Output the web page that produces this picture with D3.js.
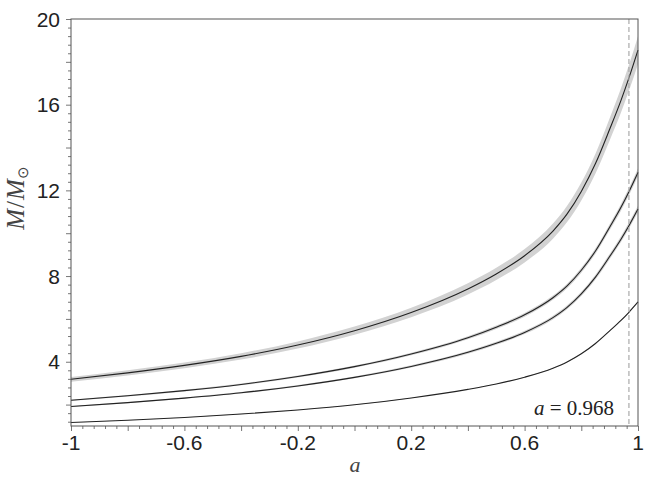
<!DOCTYPE html>
<html><head><meta charset="utf-8">
<script src="https://cdn.jsdelivr.net/npm/d3@7/dist/d3.min.js"></script>
<style>body{margin:0;background:#fff}svg{display:block}</style>
</head><body><svg id="c" width="648" height="483"></svg>
<script>
// data
const spin  = [-1,-0.8,-0.6,-0.4,-0.2,0,0.2,0.4,0.5,0.6,0.7,0.75,0.8,0.85,0.9,0.94,0.968,1];
const massA = [3.18,3.48,3.83,4.25,4.78,5.45,6.3,7.4,8.1,8.95,10.1,10.9,11.95,13.25,14.85,16.2,17.25,18.55];
const massB = [2.2,2.41,2.65,2.94,3.31,3.77,4.36,5.12,5.61,6.19,6.99,7.54,8.27,9.17,10.28,11.21,11.94,12.84];
const massC = [1.91,2.09,2.3,2.55,2.87,3.27,3.78,4.44,4.86,5.37,6.06,6.54,7.17,7.95,8.91,9.72,10.35,11.13];
const massD = [1.16,1.27,1.4,1.56,1.75,1.99,2.31,2.71,2.96,3.28,3.7,3.99,4.37,4.85,5.44,5.93,6.31,6.79];
const bandFrac = [0.035,0.014,0.014,0.004];
const xTickLabels = [-1,-0.6,-0.2,0.2,0.6,1];
const yTickLabels = [4,8,12,16,20];
const markSpin = 0.968;

const svg = d3.select("#c");
const L=71,R=638,T=19,B=426;
const x = d3.scaleLinear().domain([-1,1]).range([L,R]);
const y = d3.scaleLinear().domain([1,20]).range([B,T]);
const series=[massA,massB,massC,massD];

const g = svg.append("g");
series.forEach((s,i)=>{
  const f=bandFrac[i];
  const area=d3.area().curve(d3.curveMonotoneX)
    .x((d,j)=>x(spin[j])).y0(d=>y(d*(1-f))).y1(d=>y(d*(1+f)));
  g.append("path").attr("d",area(s)).attr("fill","#d2d2d2");
});
series.forEach(s=>{
  const line=d3.line().curve(d3.curveMonotoneX).x((d,j)=>x(spin[j])).y(d=>y(d));
  g.append("path").attr("d",line(s)).attr("fill","none").attr("stroke","#222").attr("stroke-width",1.1);
});
svg.append("line").attr("x1",x(markSpin)).attr("x2",x(markSpin)).attr("y1",T).attr("y2",B)
  .attr("stroke","#aaa").attr("stroke-width",1.2).attr("stroke-dasharray","5,3");

// axes
const xAxis = d3.axisBottom(x).tickValues(d3.range(-1,1.0001,0.04)).tickSize(3).tickFormat("");
const gx=svg.append("g").attr("transform",`translate(0,${B})`).call(xAxis);
gx.selectAll(".tick line").attr("y2",d=>{const k=Math.round(d*10);return Math.abs(k/10-d)<1e-6&&k%2===0?5:3;});
const yAxis = d3.axisLeft(y).tickValues(d3.range(1.2,20.0001,0.4)).tickSize(3).tickFormat("");
const gy=svg.append("g").attr("transform",`translate(${L},0)`).call(yAxis);
gy.selectAll(".tick line").attr("x2",d=>Math.abs(d/2-Math.round(d/2))<1e-6?-5:-3);
[gx,gy].forEach(a=>{a.select(".domain").remove();a.selectAll("line").attr("stroke","#777");});
svg.append("rect").attr("x",L).attr("y",T).attr("width",R-L).attr("height",B-T)
  .attr("fill","none").attr("stroke","#555").attr("stroke-width",1);

// tick labels
svg.append("g").selectAll("text").data(xTickLabels).join("text")
  .attr("x",d=>x(d)).attr("y",450).attr("text-anchor","middle")
  .attr("font-family","Liberation Sans, Arial, sans-serif").attr("font-size",21).attr("fill","#222")
  .text(d=>d);
svg.append("g").selectAll("text").data(yTickLabels).join("text")
  .attr("x",60).attr("y",d=>y(d)+7.5).attr("text-anchor","end")
  .attr("font-family","Liberation Sans, Arial, sans-serif").attr("font-size",21).attr("fill","#222")
  .text(d=>d);

// axis titles
svg.append("text").attr("x",355).attr("y",472).attr("text-anchor","middle")
  .attr("font-family","Liberation Serif, serif").attr("font-style","italic").attr("font-size",22).attr("fill","#444").text("a");
const yt=svg.append("text").attr("transform","translate(24,198) rotate(-90)").attr("text-anchor","middle")
  .attr("font-family","Liberation Serif, serif").attr("font-size",25).attr("fill","#444");
yt.append("tspan").attr("font-style","italic").text("M");
yt.append("tspan").attr("dx",1).text("/");
yt.append("tspan").attr("dx",1).attr("font-style","italic").text("M");
yt.append("tspan").attr("font-size",15).attr("dy",4).text("⊙");

// annotation
const an=svg.append("text").attr("x",614).attr("y",415).attr("text-anchor","end")
  .attr("font-family","Liberation Serif, serif").attr("font-size",21).attr("fill","#222");
an.append("tspan").attr("font-style","italic").text("a");
an.append("tspan").text(" = "+markSpin);
</script></body></html>
